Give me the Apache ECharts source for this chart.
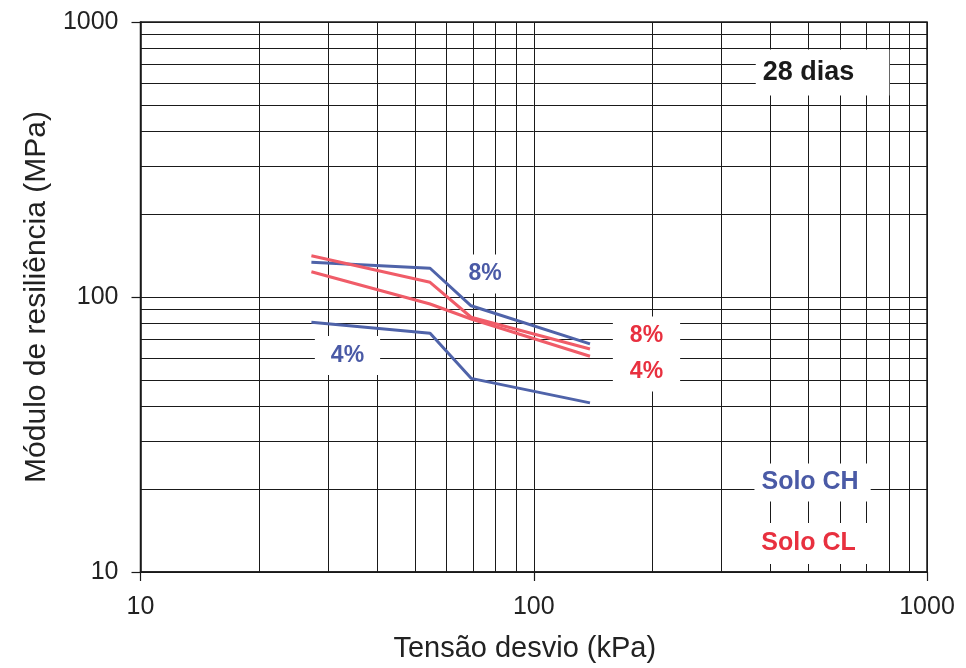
<!DOCTYPE html>
<html>
<head>
<meta charset="utf-8">
<script src="https://cdn.jsdelivr.net/npm/echarts@6/dist/echarts.min.js"></script>
<style>
html,body{margin:0;padding:0;background:#fff;}
#c{width:966px;height:668px;}
</style>
</head>
<body>
<div id="c"></div>
<script>
// Deviator stress (kPa)
var stressX = [27.2, 54.5, 69.3, 139];
// Resilient modulus (MPa)
var soloCH8 = [133.7, 127.2, 92.9, 67.5];
var soloCH4 = [80.9, 73.8, 50.6, 41.2];
var soloCL8 = [141.3, 113.1, 84.4, 64.7];
var soloCL4 = [123.6, 94.3, 83.2, 60.9];
// Minor log grid lines
var xMinor = [20, 30, 40, 50, 60, 70, 80, 90, 200, 300, 400, 500, 600, 700, 800, 900];
var yMinor = [20, 30, 40, 50, 60, 70, 80, 90, 200, 300, 400, 500, 600, 700, 800, 900];
// Annotation texts and anchor values
var annoText = ['8%', '4%', '8%', '4%', '28 dias', 'Solo CH', 'Solo CL'];
var annoX = [75.2, 33.6, 193.5, 193.5, 542.5, 511.7, 511.7];
var annoY = [121.2, 61.3, 72.1, 53.4, 655, 21.16, 12.69];

var FONT = '"Liberation Sans", Arial, sans-serif';
var BLUE = '#4f63a9';
var RED = '#f05c68';
var TBLUE = '#4a5aa6';
var TRED = '#e8303f';
var annoStyle = [
  {color: TBLUE, size: 23, pad: [8, 14, 8, 14]},
  {color: TBLUE, size: 23, pad: [8, 16, 8, 16]},
  {color: TRED, size: 23, pad: [10, 17, 6, 17]},
  {color: TRED, size: 23, pad: [6, 17, 10, 17]},
  {color: '#1a1a1a', size: 27, pad: [10, 35, 9, 7]},
  {color: TBLUE, size: 25, pad: [5, 12, 8, 7]},
  {color: TRED, size: 25, pad: [6, 15, 10, 7]}
];

function pairs(ys) { return stressX.map(function (x, i) { return [x, ys[i]]; }); }

var chart = echarts.init(document.getElementById('c'));

var series = [];
series.push({
  type: 'line', z: 1, silent: true, symbol: 'none', data: [],
  lineStyle: {width: 0},
  markLine: {
    silent: true, symbol: ['none', 'none'], animation: false,
    label: {show: false},
    lineStyle: {type: 'solid', color: '#1a1a1a', width: 1},
    emphasis: {disabled: true},
    data: xMinor.map(function (v) { return {xAxis: v}; })
      .concat(yMinor.map(function (v) { return {yAxis: v}; }))
  }
});
series.push({
  type: 'custom', z: 5, silent: true, clip: false,
  data: annoText.map(function (t, i) { return [annoX[i], annoY[i], i]; }),
  renderItem: function (params, api) {
    var i = api.value(2);
    var p = api.coord([api.value(0), api.value(1)]);
    var s = annoStyle[i];
    return {
      type: 'text', x: p[0], y: p[1], z2: 10,
      style: {
        text: annoText[i], fill: s.color,
        font: 'bold ' + s.size + 'px ' + FONT,
        align: 'center', verticalAlign: 'middle',
        backgroundColor: '#ffffff', padding: s.pad
      }
    };
  }
});
[[soloCH8, BLUE], [soloCH4, BLUE], [soloCL8, RED], [soloCL4, RED]].forEach(function (s) {
  series.push({
    type: 'line', z: 8, data: pairs(s[0]), symbol: 'none', silent: true,
    lineStyle: {color: s[1], width: 3}
  });
});

function fmt(v) { return String(Math.round(v)); }

chart.setOption({
  animation: false,
  backgroundColor: '#ffffff',
  grid: {left: 140.5, right: 39, top: 22, bottom: 95, show: true, borderColor: '#1a1a1a', borderWidth: 1.5, backgroundColor: 'transparent'},
  xAxis: {
    type: 'log', logBase: 10, min: 10, max: 1000,
    name: 'Tensão desvio (kPa)', nameLocation: 'middle', nameGap: 62,
    nameTextStyle: {fontSize: 29, color: '#222', fontFamily: FONT, padding: [0, 18, 0, 0]},
    axisLine: {show: true, lineStyle: {color: '#1a1a1a', width: 1.5}},
    axisTick: {show: true, length: 9, lineStyle: {color: '#1a1a1a', width: 1.2}},
    axisLabel: {fontSize: 25, color: '#222', fontFamily: FONT, margin: 23, formatter: fmt},
    splitLine: {show: true, lineStyle: {color: '#1a1a1a', width: 1}}
  },
  yAxis: {
    type: 'log', logBase: 10, min: 10, max: 1000,
    name: 'Módulo de resiliência (MPa)', nameLocation: 'middle', nameGap: 86,
    nameTextStyle: {fontSize: 30, color: '#222', fontFamily: FONT},
    axisLine: {show: true, lineStyle: {color: '#1a1a1a', width: 1.5}},
    axisTick: {show: true, length: 9, lineStyle: {color: '#1a1a1a', width: 1.2}},
    axisLabel: {fontSize: 25, color: '#222', fontFamily: FONT, margin: 22, formatter: fmt},
    splitLine: {show: true, lineStyle: {color: '#1a1a1a', width: 1}}
  },
  series: series
});
</script>
</body>
</html>
